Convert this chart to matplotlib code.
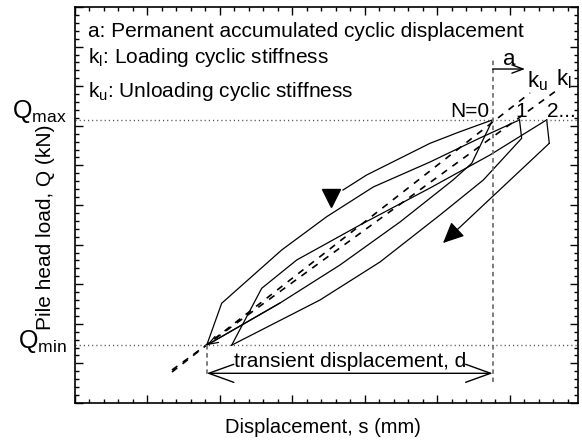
import matplotlib
matplotlib.use('Agg')
import matplotlib.pyplot as plt
from matplotlib.ticker import MultipleLocator

plt.rcParams['font.family'] = ['Liberation Sans', 'DejaVu Sans']
plt.rcParams['mathtext.fontset'] = 'custom'
plt.rcParams['mathtext.rm'] = 'Liberation Sans'
plt.rcParams['mathtext.it'] = 'Liberation Sans:italic'

# load levels of the cycles
q_min = 1.46
q_max = 7.15

# displacement at Qmin / Qmax for each cycle
s_min = [1.817, 2.161]
s_max = [5.761, 6.131, 6.506]

# upper envelope leading into the first peak
top_s = [3.697, 4.023, 4.897, 5.310, 5.761]
top_q = [5.379, 5.758, 6.558, 6.851, q_max]

# loading branches (Qmin -> Qmax)
load0_s = [1.817, 2.023, 2.851, 3.472, 4.114, 4.897, 5.586, 6.131]
load0_q = [q_min, 2.518, 3.864, 4.705, 5.455, 6.086, 6.692, q_max]
load1_s = [2.161, 2.575, 3.058, 3.931, 4.897, 5.724, 6.506]
load1_q = [q_min, 2.896, 3.611, 4.495, 5.429, 6.263, q_max]

# unloading branches (Qmax -> Qmin)
unload0_s = [5.761, 5.472, 5.214, 4.483, 3.655, 2.828, 1.817]
unload0_q = [q_max, 6.053, 5.631, 4.571, 3.485, 2.525, q_min]
unload1_s = [6.131, 6.161, 5.632, 5.034, 4.207, 3.379, 2.161]
unload1_q = [q_max, 6.684, 5.631, 4.747, 3.561, 2.601, q_min]
unload2_s = [6.506, 6.542, 5.076]
unload2_q = [q_max, 6.558, 4.040]

# stiffness lines
ku_s = [1.338, 6.276]
ku_q = [0.783, 7.828]
kl_s = [1.338, 6.660]
kl_q = [0.833, 7.915]

fig = plt.figure(figsize=(5.82, 4.41), dpi=100)
ax = fig.add_axes([75 / 582, 38 / 441, 503 / 582, 396 / 441])

ax.set_xlim(0, 6.938)
ax.set_ylim(0, 10)

lw = 0.9
ax.plot(top_s, top_q, color='k', lw=lw)
ax.plot(load0_s, load0_q, color='k', lw=lw)
ax.plot(load1_s, load1_q, color='k', lw=lw)
ax.plot(unload0_s, unload0_q, color='k', lw=lw)
ax.plot(unload1_s, unload1_q, color='k', lw=lw)
ax.plot(unload2_s[:2], unload2_q[:2], color='k', lw=lw)
ax.annotate('', xy=(unload2_s[2], unload2_q[2]), xytext=(unload2_s[1], unload2_q[1]),
            arrowprops=dict(arrowstyle='-|>,head_length=1.3,head_width=0.6', mutation_scale=10,
                            lw=lw, color='k', shrinkA=0, shrinkB=0))
# small open head where the first unloading branch returns to Qmin
ax.annotate('', xy=(unload0_s[-1], unload0_q[-1]), xytext=(unload0_s[-2], unload0_q[-2]),
            arrowprops=dict(arrowstyle='->,head_length=0.7,head_width=0.25', mutation_scale=10,
                            lw=lw, color='k', shrinkA=0, shrinkB=0))
# direction marker on the upper curve
ax.plot([3.531], [5.177], marker='v', ms=13, color='k', mec='k')

ax.plot(ku_s, ku_q, color='k', lw=1.2, dashes=(4, 4))
ax.plot(kl_s, kl_q, color='k', lw=1.2, dashes=(4, 4))

# Qmax / Qmin reference lines
ax.axhline(q_max, color='0.3', lw=1, ls=(0, (0.8, 2.2)))
ax.axhline(q_min, color='0.3', lw=1, ls=(0, (0.8, 2.2)))
ax.plot([s_max[0], s_max[0]], [0.538, 8.737], color='0.45', lw=1.3, dashes=(2.5, 2))
ax.plot([s_min[0], s_min[0]], [q_min, 0.682], color='0.45', lw=1.3, dashes=(2.5, 2))

# transient displacement d
ax.annotate('', xy=(s_min[0], 0.75), xytext=(s_max[0], 0.75),
            arrowprops=dict(arrowstyle='<->,head_length=1.8,head_width=0.65', mutation_scale=10,
                            lw=1, color='k', shrinkA=0, shrinkB=0))
ax.text((s_min[0] + s_max[0]) / 2, 0.909, 'transient displacement, d', fontsize=15,
        ha='center', va='baseline')

# accumulated displacement a
ax.annotate('', xy=(s_max[1] + 0.076, 8.434), xytext=(s_max[0], 8.434),
            arrowprops=dict(arrowstyle='->,head_length=0.8,head_width=0.3', mutation_scale=10,
                            lw=1, color='k', shrinkA=0, shrinkB=0))
ax.text(5.903, 8.535, 'a', fontsize=16, va='baseline')

ax.text(5.710, 7.222, 'N=0', fontsize=15, ha='right', va='baseline')
ax.text(6.069, 7.222, '1', fontsize=15, va='baseline')
ax.text(6.510, 7.222, '2...', fontsize=15, va='baseline')
ax.text(6.234, 7.98, r'$\mathregular{k_u}$', fontsize=16, va='baseline')
ax.text(6.634, 8.03, r'$\mathregular{k_l}$', fontsize=16, va='baseline')

ax.text(0.179, 9.242, 'a: Permanent accumulated cyclic displacement', fontsize=15, va='baseline')
ax.text(0.179, 8.586, r'$\mathregular{k_l}$: Loading cyclic stiffness', fontsize=15, va='baseline')
ax.text(0.179, 7.727, r'$\mathregular{k_u}$: Unloading cyclic stiffness', fontsize=15, va='baseline')

ax.text(-0.110, 7.197, r'$\mathregular{Q_{max}}$', fontsize=18, ha='right', va='baseline', clip_on=False)
ax.text(-0.110, 1.389, r'$\mathregular{Q_{min}}$', fontsize=18, ha='right', va='baseline', clip_on=False)

ax.set_xlabel('Displacement, s (mm)', fontsize=14.5)
ax.set_ylabel('Pile head load, Q (kN)', fontsize=15)
ax.xaxis.set_label_coords(0.492, -0.038)
ax.yaxis.set_label_coords(-0.04, 0.445)

ax.xaxis.set_major_locator(MultipleLocator(1))
ax.xaxis.set_minor_locator(MultipleLocator(0.2))
ax.yaxis.set_major_locator(MultipleLocator(1))
ax.yaxis.set_minor_locator(MultipleLocator(0.2))
ax.tick_params(which='both', direction='in', top=True, right=True,
               labelbottom=False, labelleft=False, width=1)
ax.tick_params(which='major', length=5.5)
ax.tick_params(which='minor', length=3)
for sp in ax.spines.values():
    sp.set_linewidth(1.2)

fig.savefig('out.png', dpi=100)
